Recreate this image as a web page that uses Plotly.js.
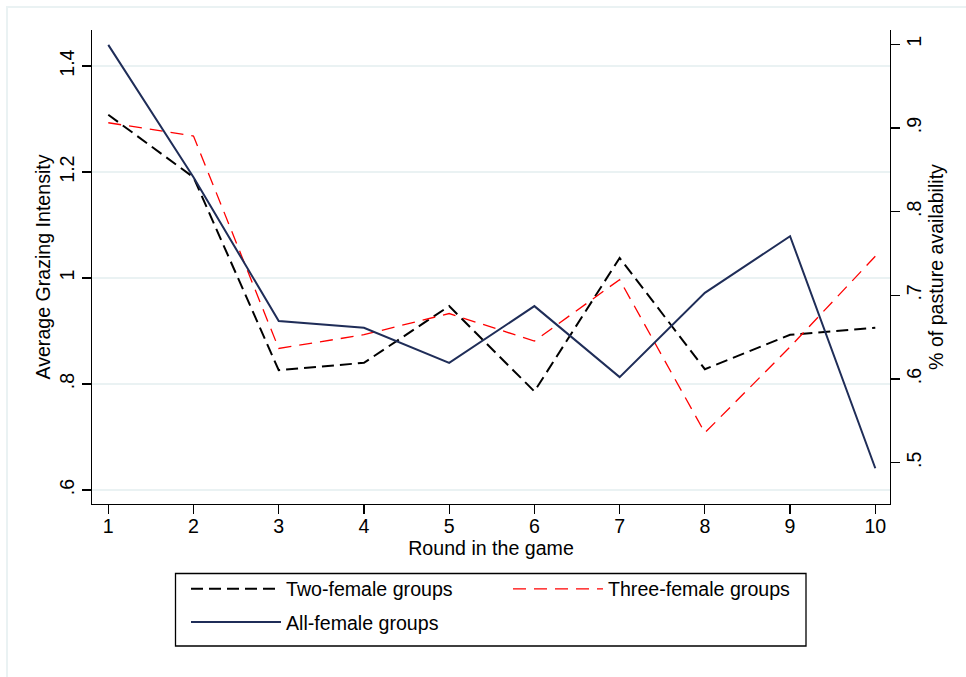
<!DOCTYPE html>
<html>
<head>
<meta charset="utf-8">
<script src="https://cdn.plot.ly/plotly-3.0.1.min.js"></script>
<style>
html,body{margin:0;padding:0;background:#fff;}
#chart{width:966px;height:677px;}
</style>
</head>
<body>
<div id="chart"></div>
<script>
var rounds = [1,2,3,4,5,6,7,8,9,10];
var twoFemale   = [1.308,1.19,0.826,0.840,0.947,0.786,1.038,0.828,0.893,0.906];
var threeFemale = [1.293,1.268,0.867,0.893,0.933,0.881,0.997,0.708,0.870,1.041];
var allFemale   = [1.440,1.19,0.919,0.906,0.840,0.947,0.813,0.972,1.079,0.641];

var leftTickVals = [0.6,0.8,1,1.2,1.4];
var leftTickText = ['.6','.8','1','1.2','1.4'];
var rightTickVals = [0.5,0.6,0.7,0.8,0.9,1];
var rightTickText = ['.5','.6','.7','.8','.9','1'];

var FONT = 'Liberation Sans, Arial, sans-serif';
var FS = 19.6;
var NAVY = '#1f2d58';

var traces = [
  {x: rounds, y: twoFemale, name: 'Two-female groups', type: 'scatter', mode: 'lines',
   line: {color: '#000000', width: 2, dash: '12px,6px'}, legend: 'legend'},
  {x: rounds, y: threeFemale, name: 'Three-female groups', type: 'scatter', mode: 'lines',
   line: {color: '#ff0000', width: 1.3, dash: '13px,8px'}, legend: 'legend'},
  {x: rounds, y: allFemale, name: 'All-female groups', type: 'scatter', mode: 'lines',
   line: {color: NAVY, width: 2}, legend: 'legend2'},
  // empty trace so the right-hand (pasture availability) axis is drawn
  {x: [], y: [], yaxis: 'y2', type: 'scatter', mode: 'lines', showlegend: false, hoverinfo: 'skip'}
];

var layout = {
  width: 966, height: 677,
  margin: {l: 92, r: 76, t: 30, b: 173},
  paper_bgcolor: '#ffffff', plot_bgcolor: '#ffffff',
  font: {family: FONT, size: FS, color: '#000'},
  showlegend: true,
  xaxis: {
    range: [0.809, 10.1725], tickvals: rounds, ticktext: rounds.map(String),
    showgrid: false, zeroline: false, showline: true, linecolor: '#000', linewidth: 1.3,
    ticks: 'outside', ticklen: 9, tickwidth: 1.3, tickcolor: '#000',
    tickfont: {size: FS}, ticklabelstandoff: -5,
    title: {text: 'Round in the game', font: {size: FS}, standoff: 0}
  },
  yaxis: {
    range: [0.5736, 1.468], tickvals: leftTickVals, ticktext: leftTickText,
    showgrid: true, gridcolor: '#eaf2f3', gridwidth: 2, zeroline: false,
    showline: true, linecolor: '#000', linewidth: 1.3,
    ticks: 'outside', ticklen: 9, tickwidth: 1.3, tickcolor: '#000',
    tickangle: -90, tickfont: {size: FS}, ticklabelstandoff: 0,
    title: {text: 'Average Grazing Intensity', font: {size: FS}, standoff: 0}
  },
  yaxis2: {
    overlaying: 'y', side: 'right', anchor: 'x',
    range: [0.4507, 1.0171], tickvals: rightTickVals, ticktext: rightTickText,
    showgrid: false, zeroline: false,
    showline: true, linecolor: '#000', linewidth: 1.3,
    ticks: 'outside', ticklen: 9, tickwidth: 1.3, tickcolor: '#000',
    tickangle: -90, tickfont: {size: FS}, ticklabelstandoff: -3,
    title: {text: '% of pasture availability', font: {size: FS}, standoff: 5}
  },
  legend: {
    orientation: 'h', x: (186-92)/798, xanchor: 'left', y: -0.1384, yanchor: 'top',
    bgcolor: 'rgba(0,0,0,0)', borderwidth: 0, itemwidth: 90,
    entrywidth: 217, font: {size: FS}, itemclick: false, itemdoubleclick: false
  },
  legend2: {
    orientation: 'h', x: (186-92)/798, xanchor: 'left', y: -0.2084, yanchor: 'top',
    bgcolor: 'rgba(0,0,0,0)', borderwidth: 0, itemwidth: 90,
    font: {size: FS}, itemclick: false, itemdoubleclick: false
  },
  shapes: [
    {type: 'rect', xref: 'paper', yref: 'paper', x0: -0.1065, x1: 1.3, y0: -0.6, y1: 1.0485,
     line: {color: '#eaf2f3', width: 2}, fillcolor: 'rgba(0,0,0,0)', layer: 'below'},
    {type: 'rect', xref: 'paper', yref: 'paper', x0: (175.5-92)/798, x1: (806-92)/798,
     y0: (504-646)/474, y1: (504-573.5)/474,
     line: {color: '#000', width: 1.3}, fillcolor: 'rgba(0,0,0,0)'}
  ]
};

Plotly.newPlot('chart', traces, layout, {displayModeBar: false, staticPlot: true});
</script>
</body>
</html>
